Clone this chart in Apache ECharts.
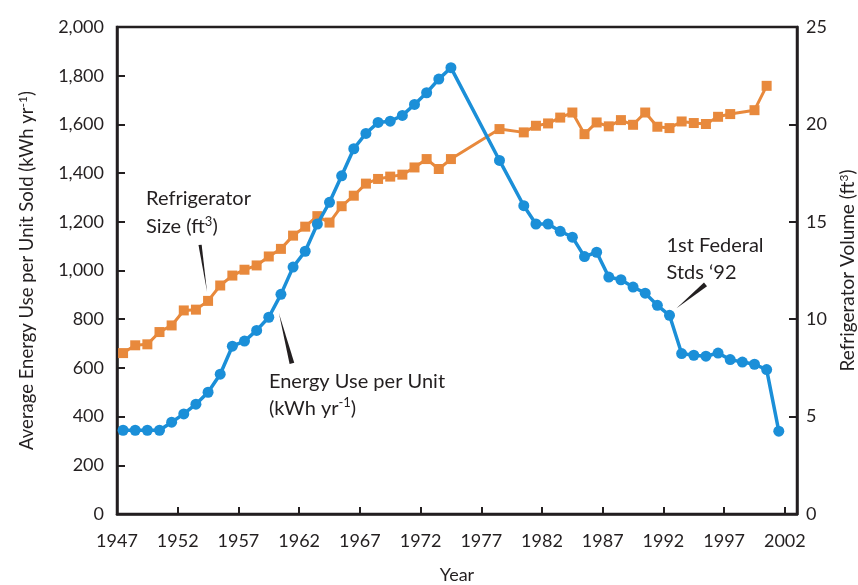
<!DOCTYPE html>
<html>
<head>
<meta charset="utf-8">
<script src="https://cdn.jsdelivr.net/npm/echarts@6/dist/echarts.min.js"></script>
<style>
  html, body { margin: 0; padding: 0; background: #fff; }
  #chart { width: 858px; height: 585px; }
</style>
</head>
<body>
<div id="chart"></div>
<script>
// Annual energy use per refrigerator sold (kWh/yr)
const energyYears = [1947,1948,1949,1950,1951,1952,1953,1954,1955,1956,1957,1958,1959,1960,
  1961,1962,1963,1964,1965,1966,1967,1968,1969,1970,1971,1972,1973,1974,1978,
  1980,1981,1982,1983,1984,1985,1986,1987,1988,1989,1990,1991,1992,1993,1994,
  1995,1996,1997,1998,1999,2000,2001];
const energyUse = [344,344,344,344,377,411,451,500,574,689,710,754,808,902,
  1014,1079,1191,1280,1389,1500,1563,1608,1613,1637,1682,1730,1786,1833,1452,
  1266,1191,1191,1161,1137,1057,1075,973,962,932,907,857,816,659,652,
  648,661,634,624,615,593,340];

// Average refrigerator volume (cubic feet)
const sizeYears = [1947,1948,1949,1950,1951,1952,1953,1954,1955,1956,1957,1958,1959,1960,
  1961,1962,1963,1964,1965,1966,1967,1968,1969,1970,1971,1972,1973,1974,1978,
  1980,1981,1982,1983,1984,1985,1986,1987,1988,1989,1990,1991,1992,1993,1994,
  1995,1996,1997,1999,2000];
const sizeFt3 = [8.26,8.66,8.71,9.34,9.68,10.45,10.49,10.94,11.73,12.24,12.54,12.76,13.22,13.61,
  14.29,14.75,15.29,14.96,15.80,16.34,16.96,17.20,17.32,17.42,17.79,18.22,17.71,18.22,19.76,
  19.59,19.93,20.05,20.35,20.61,19.50,20.10,19.90,20.22,19.98,20.61,19.88,19.81,20.15,20.07,
  20.02,20.39,20.53,20.73,21.98];

// Axis ticks: labelled every five years from 1947, axis running to the end of 2002
const firstYear = 1947;
const axisEndYear = 2003;
const yearTickStep = 5;
const energyTicks = { min: 0, max: 2000, step: 200 };
const volumeTicks = { min: 0, max: 25, step: 5 };

const FONT = 'Lato, "Open Sans", sans-serif';
const INK = '#231f20';
const BLUE = '#1b8fd8';
const ORANGE = '#e8893c';

// Annual values are placed at mid-year on an axis counted from the first year
const toX = y => y - firstYear + 0.5;
const toPoints = (years, vals) => years.map((y, i) => [toX(y), vals[i]]);

const chart = echarts.init(document.getElementById('chart'), null, { renderer: 'canvas' });

const axisLine = { show: true, lineStyle: { color: INK, width: 2.5 } };
const supRich = {
  sup: { fontSize: 12, fontFamily: FONT, color: INK, verticalAlign: 'top', lineHeight: 21 }
};

chart.setOption({
  animation: false,
  backgroundColor: '#fff',
  grid: {
    left: 117, right: 61, top: 27, bottom: 71,
    outerBoundsMode: 'none',
    containLabel: false,
    show: true, borderColor: INK, borderWidth: 2.5, backgroundColor: 'transparent'
  },
  xAxis: {
    type: 'value',
    min: 0, max: axisEndYear - firstYear, interval: yearTickStep,
    name: 'Year', nameLocation: 'middle', nameGap: 52,
    nameTextStyle: { fontFamily: FONT, fontSize: 18, color: INK },
    axisLine: axisLine,
    axisTick: { show: true, inside: true, length: 7, lineStyle: { color: INK, width: 2 } },
    splitLine: { show: false },
    axisLabel: {
      fontFamily: FONT, fontSize: 18, color: INK, margin: 18,
      showMaxLabel: false,
      formatter: v => (v % yearTickStep === 0 ? String(v + firstYear) : '')
    }
  },
  yAxis: [
    {
      type: 'value', position: 'left',
      min: energyTicks.min, max: energyTicks.max, interval: energyTicks.step,
      name: 'Average Energy Use per Unit Sold (kWh yr{sup|-1})',
      nameLocation: 'middle', nameGap: 79, nameRotate: 90,
      nameTextStyle: { fontFamily: FONT, fontSize: 18.5, color: INK, lineHeight: 21, rich: supRich },
      axisLine: axisLine,
      axisTick: { show: true, inside: true, length: 8, lineStyle: { color: INK, width: 2 } },
      splitLine: { show: false },
      axisLabel: {
        fontFamily: FONT, fontSize: 18, color: INK, margin: 13,
        formatter: v => v.toLocaleString('en-US')
      }
    },
    {
      type: 'value', position: 'right',
      min: volumeTicks.min, max: volumeTicks.max, interval: volumeTicks.step,
      name: 'Refrigerator Volume (ft{sup|3})',
      nameLocation: 'middle', nameGap: 36, nameRotate: 90,
      nameTextStyle: { fontFamily: FONT, fontSize: 19, color: INK, lineHeight: 21, rich: supRich },
      axisLine: axisLine,
      axisTick: { show: true, inside: true, length: 8, lineStyle: { color: INK, width: 2 } },
      splitLine: { show: false },
      axisLabel: { fontFamily: FONT, fontSize: 18, color: INK, margin: 9 }
    }
  ],
  series: [
    {
      name: 'Refrigerator Size', type: 'line', yAxisIndex: 1,
      data: toPoints(sizeYears, sizeFt3),
      symbol: 'rect', symbolSize: 10,
      lineStyle: { color: ORANGE, width: 3 },
      itemStyle: { color: ORANGE },
      z: 2
    },
    {
      name: 'Energy Use per Unit', type: 'line', yAxisIndex: 0,
      data: toPoints(energyYears, energyUse),
      symbol: 'circle', symbolSize: 11,
      lineStyle: { color: BLUE, width: 3.5 },
      itemStyle: { color: BLUE },
      z: 3
    }
  ]
});

// Captions and tapered leader lines, placed relative to the points they describe
const px = (year, years, vals, axisIdx) =>
  chart.convertToPixel({ xAxisIndex: 0, yAxisIndex: axisIdx }, [toX(year), vals[years.indexOf(year)]]);

const sizePt = px(1954, sizeYears, sizeFt3, 1);
const usePt = px(1960, energyYears, energyUse, 0);
const stdPt = px(1992, energyYears, energyUse, 0);

const caption = (x, y, text) => ({
  type: 'text', x: x, y: y,
  style: {
    text: text, fontFamily: FONT, fontSize: 20, fill: INK, lineHeight: 24,
    textVerticalAlign: 'middle',
    rich: { sup: { fontSize: 13, fontFamily: FONT, fill: INK, verticalAlign: 'top', lineHeight: 24 } }
  }
});
const wedge = (tip, base, half) => {
  const dx = base[0] - tip[0], dy = base[1] - tip[1];
  const len = Math.hypot(dx, dy);
  const nx = -dy / len * half, ny = dx / len * half;
  return {
    type: 'polygon',
    shape: { points: [tip, [base[0] + nx, base[1] + ny], [base[0] - nx, base[1] - ny]] },
    style: { fill: INK }
  };
};
const add = (p, dx, dy) => [p[0] + dx, p[1] + dy];

chart.setOption({
  graphic: [
    caption(sizePt[0] - 62, sizePt[1] - 102, 'Refrigerator'),
    caption(sizePt[0] - 62, sizePt[1] - 74, 'Size (ft{sup|3})'),
    wedge(add(sizePt, -1, -9), add(sizePt, -8, -56), 1.6),

    caption(usePt[0] - 12, usePt[1] + 87, 'Energy Use per Unit'),
    caption(usePt[0] - 12, usePt[1] + 114, '(kWh yr{sup|-1})'),
    wedge(add(usePt, -2, 19), add(usePt, 11, 69), 2.4),

    caption(stdPt[0] - 3, stdPt[1] - 70, '1st Federal'),
    caption(stdPt[0] - 3, stdPt[1] - 43, 'Stds \u201892'),
    wedge(add(stdPt, 7, -7), add(stdPt, 36, -31), 2.4)
  ]
});
</script>
</body>
</html>
